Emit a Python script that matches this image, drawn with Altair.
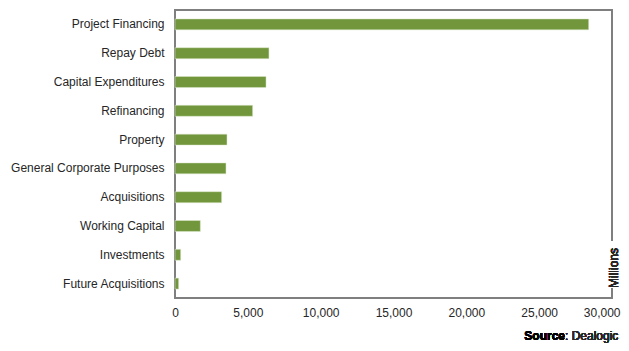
import altair as alt
import pandas as pd

categories = ["Project Financing", "Repay Debt", "Capital Expenditures", "Refinancing",
              "Property", "General Corporate Purposes", "Acquisitions", "Working Capital",
              "Investments", "Future Acquisitions"]
values = [28400, 6450, 6250, 5330, 3570, 3500, 3200, 1740, 390, 250]
x_ticks = [0, 5000, 10000, 15000, 20000, 25000, 30000]

df = pd.DataFrame({"cat": categories, "val": values})

W, H = 437, 288
FONT = "Liberation Sans"
FS = 12

bars = alt.Chart(df).mark_bar(color="#71963C", stroke="#DDE8CC", strokeWidth=0.5).encode(
    y=alt.Y("cat:N", sort=categories,
            scale=alt.Scale(paddingInner=0.62, paddingOuter=0.31),
            axis=alt.Axis(title=None, ticks=False, domain=False, labelPadding=11,
                          labelFontSize=FS, labelFont=FONT, labelColor="#262626",
                          labelLimit=300)),
    x=alt.X("val:Q", scale=alt.Scale(domain=[0, 30000], nice=False),
            axis=alt.Axis(title=None, values=x_ticks, labelExpr="format(datum.value, ',')",
                          grid=False, ticks=False,
                          labelAlign=alt.condition("datum.value >= 30000", alt.value("right"), alt.value("center")),
                          labelOffset=alt.condition("datum.value >= 30000", alt.value(8), alt.value(0)),
                          domain=False, labelPadding=9, labelFontSize=FS, labelFont=FONT,
                          labelColor="#262626", labelFlush=False))
)

bg = alt.Chart(df).mark_rect(color="white").encode(
    x=alt.value(W - 7), x2=alt.value(W + 7), y=alt.value(231), y2=alt.value(278)
)
millions = alt.Chart(df).mark_text(angle=270, font=FONT, fontSize=FS, color="#262626",
                                   align="center", baseline="middle").encode(
    x=alt.value(W + 2), y=alt.value(258), text=alt.value("Millions")
)
src1 = alt.Chart(df).mark_text(font=FONT, fontSize=FS, fontWeight="bold", color="#000000",
                               align="right", baseline="middle").encode(
    x=alt.value(390), y=alt.value(326), text=alt.value("Source")
)
src2 = alt.Chart(df).mark_text(font=FONT, fontSize=FS, fontWeight="normal", color="#262626",
                               align="left", baseline="middle").encode(
    x=alt.value(390), y=alt.value(326), text=alt.value(": Dealogic")
)

chart = alt.layer(bars, bg, millions, src1, src2).properties(
    width=W, height=H,
    autosize=alt.AutoSizeParams(type="none"),
    padding={"left": 167, "top": 2, "right": 9, "bottom": 45},
    background="white",
).configure_view(stroke="#7F7F7F", strokeWidth=2)

chart.save("out.html", embed_options={"renderer": "svg", "actions": False})
